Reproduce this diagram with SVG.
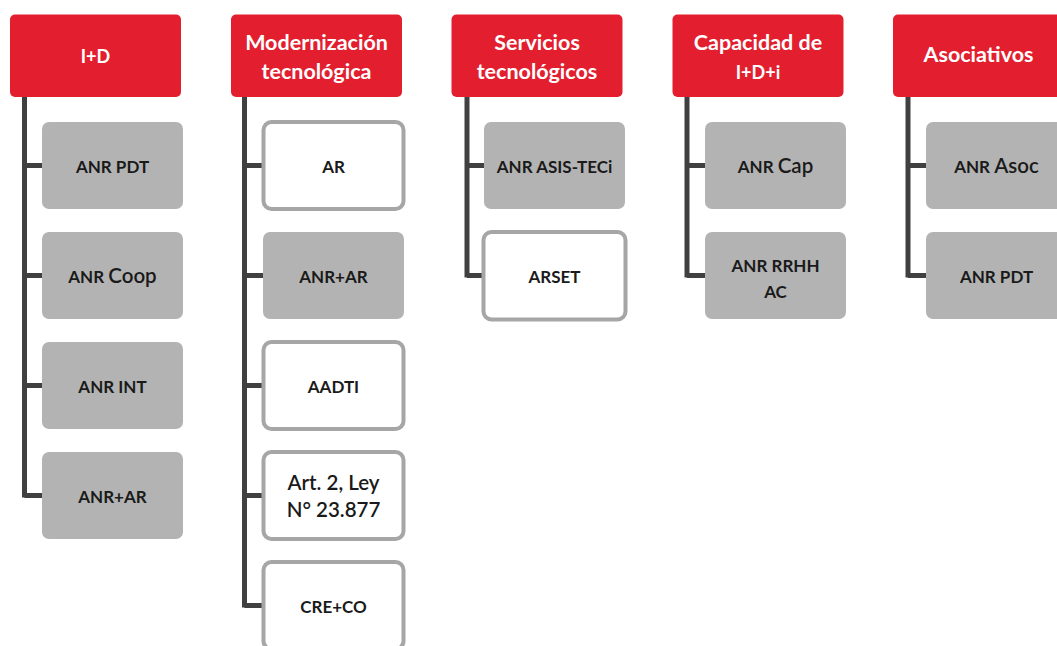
<svg xmlns="http://www.w3.org/2000/svg" width="1057" height="646" viewBox="0 0 1057 646">
<style>
.hd{fill:#e31f2f}
.gb{fill:#b3b3b3}
.ob{fill:#ffffff;stroke:#a6a6a6;stroke-width:4}
.ht{font-family:Lato,"Open Sans","Liberation Sans",sans-serif;font-weight:bold;fill:#ffffff;text-anchor:middle;font-size:21.5px}
.hs{font-size:18px}
.lt{font-family:Lato,"Open Sans","Liberation Sans",sans-serif;font-weight:bold;fill:#1a1a1a;text-anchor:middle;font-size:17px}
.mx{font-weight:600;font-size:20.5px}
.ln{fill:none;stroke:#404040;stroke-width:5}
</style>
<rect width="1057" height="646" fill="#ffffff"/>
<g id="connectors">
<path class="ln" d="M24.5 97 V497.5 M24.5 165.5 H42 M24.5 275.5 H42 M24.5 385.5 H42 M24.5 495.5 H42"/>
<path class="ln" d="M244.5 97 V607.5 M244.5 165.5 H263 M244.5 275.5 H263 M244.5 385.5 H263 M244.5 495.5 H263 M244.5 605.5 H263"/>
<path class="ln" d="M467 97 V277.5 M467 165.5 H484 M467 275.5 H484"/>
<path class="ln" d="M687 97 V277.5 M687 165.5 H705 M687 275.5 H705"/>
<path class="ln" d="M908 97 V277.5 M908 165.5 H926 M908 275.5 H926"/>
</g>
<g id="h1"><rect class="hd" x="10" y="14.5" width="171" height="82.5" rx="5"/><text class="ht hs" x="95.5" y="63">I+D</text></g>
<g id="h2"><rect class="hd" x="231" y="14.5" width="171" height="82.5" rx="5"/><text class="ht" x="316.5" y="50">Modernización</text><text class="ht" x="316.5" y="79">tecnológica</text></g>
<g id="h3"><rect class="hd" x="451.5" y="14.5" width="171" height="82.5" rx="5"/><text class="ht" x="537" y="50">Servicios</text><text class="ht" x="537" y="79">tecnológicos</text></g>
<g id="h4"><rect class="hd" x="672.5" y="14.5" width="171" height="82.5" rx="5"/><text class="ht" x="758" y="50">Capacidad de</text><text class="ht hs" x="758" y="79">I+D+i</text></g>
<g id="h5"><rect class="hd" x="893" y="14.5" width="171" height="82.5" rx="5"/><text class="ht" x="978.5" y="62">Asociativos</text></g>

<g id="c1a"><rect class="gb" x="42" y="122" width="141" height="87" rx="7"/><text class="lt" x="112.5" y="172.5">ANR PDT</text></g>
<g id="c1b"><rect class="gb" x="42" y="232" width="141" height="87" rx="7"/><text class="lt" x="112.5" y="282.5">ANR <tspan class="mx">Coop</tspan></text></g>
<g id="c1c"><rect class="gb" x="42" y="342" width="141" height="87" rx="7"/><text class="lt" x="112.5" y="392.5">ANR INT</text></g>
<g id="c1d"><rect class="gb" x="42" y="452" width="141" height="87" rx="7"/><text class="lt" x="112.5" y="502.5">ANR+AR</text></g>

<g id="c2a"><rect class="ob" x="263.5" y="122" width="140" height="87" rx="8"/><text class="lt" x="333.5" y="172.5">AR</text></g>
<g id="c2b"><rect class="gb" x="263" y="232" width="141" height="87" rx="7"/><text class="lt" x="333.5" y="282.5">ANR+AR</text></g>
<g id="c2c"><rect class="ob" x="263.5" y="342" width="140" height="87" rx="8"/><text class="lt" x="333.5" y="392.5">AADTI</text></g>
<g id="c2d"><rect class="ob" x="263.5" y="452" width="140" height="87" rx="8"/><text class="lt mx" x="333.5" y="490">Art. 2, Ley</text><text class="lt mx" x="333.5" y="517">N° 23.877</text></g>
<g id="c2e"><rect class="ob" x="263.5" y="562" width="140" height="87" rx="8"/><text class="lt" x="333.5" y="612.5">CRE+CO</text></g>

<g id="c3a"><rect class="gb" x="484" y="122" width="141" height="87" rx="7"/><text class="lt" x="554.5" y="172.5">ANR ASIS-TECi</text></g>
<g id="c3b"><rect class="ob" x="483.5" y="232" width="142" height="87.5" rx="8"/><text class="lt" x="554.5" y="282.5">ARSET</text></g>

<g id="c4a"><rect class="gb" x="705" y="122" width="141" height="87" rx="7"/><text class="lt" x="775.5" y="172.5">ANR <tspan class="mx">Cap</tspan></text></g>
<g id="c4b"><rect class="gb" x="705" y="232" width="141" height="87" rx="7"/><text class="lt" x="775.5" y="271.5">ANR RRHH</text><text class="lt" x="775.5" y="298">AC</text></g>

<g id="c5a"><rect class="gb" x="926" y="122" width="141" height="87" rx="7"/><text class="lt" x="996.5" y="172.5">ANR <tspan class="mx">Asoc</tspan></text></g>
<g id="c5b"><rect class="gb" x="926" y="232" width="141" height="87" rx="7"/><text class="lt" x="996.5" y="282.5">ANR PDT</text></g>
</svg>
